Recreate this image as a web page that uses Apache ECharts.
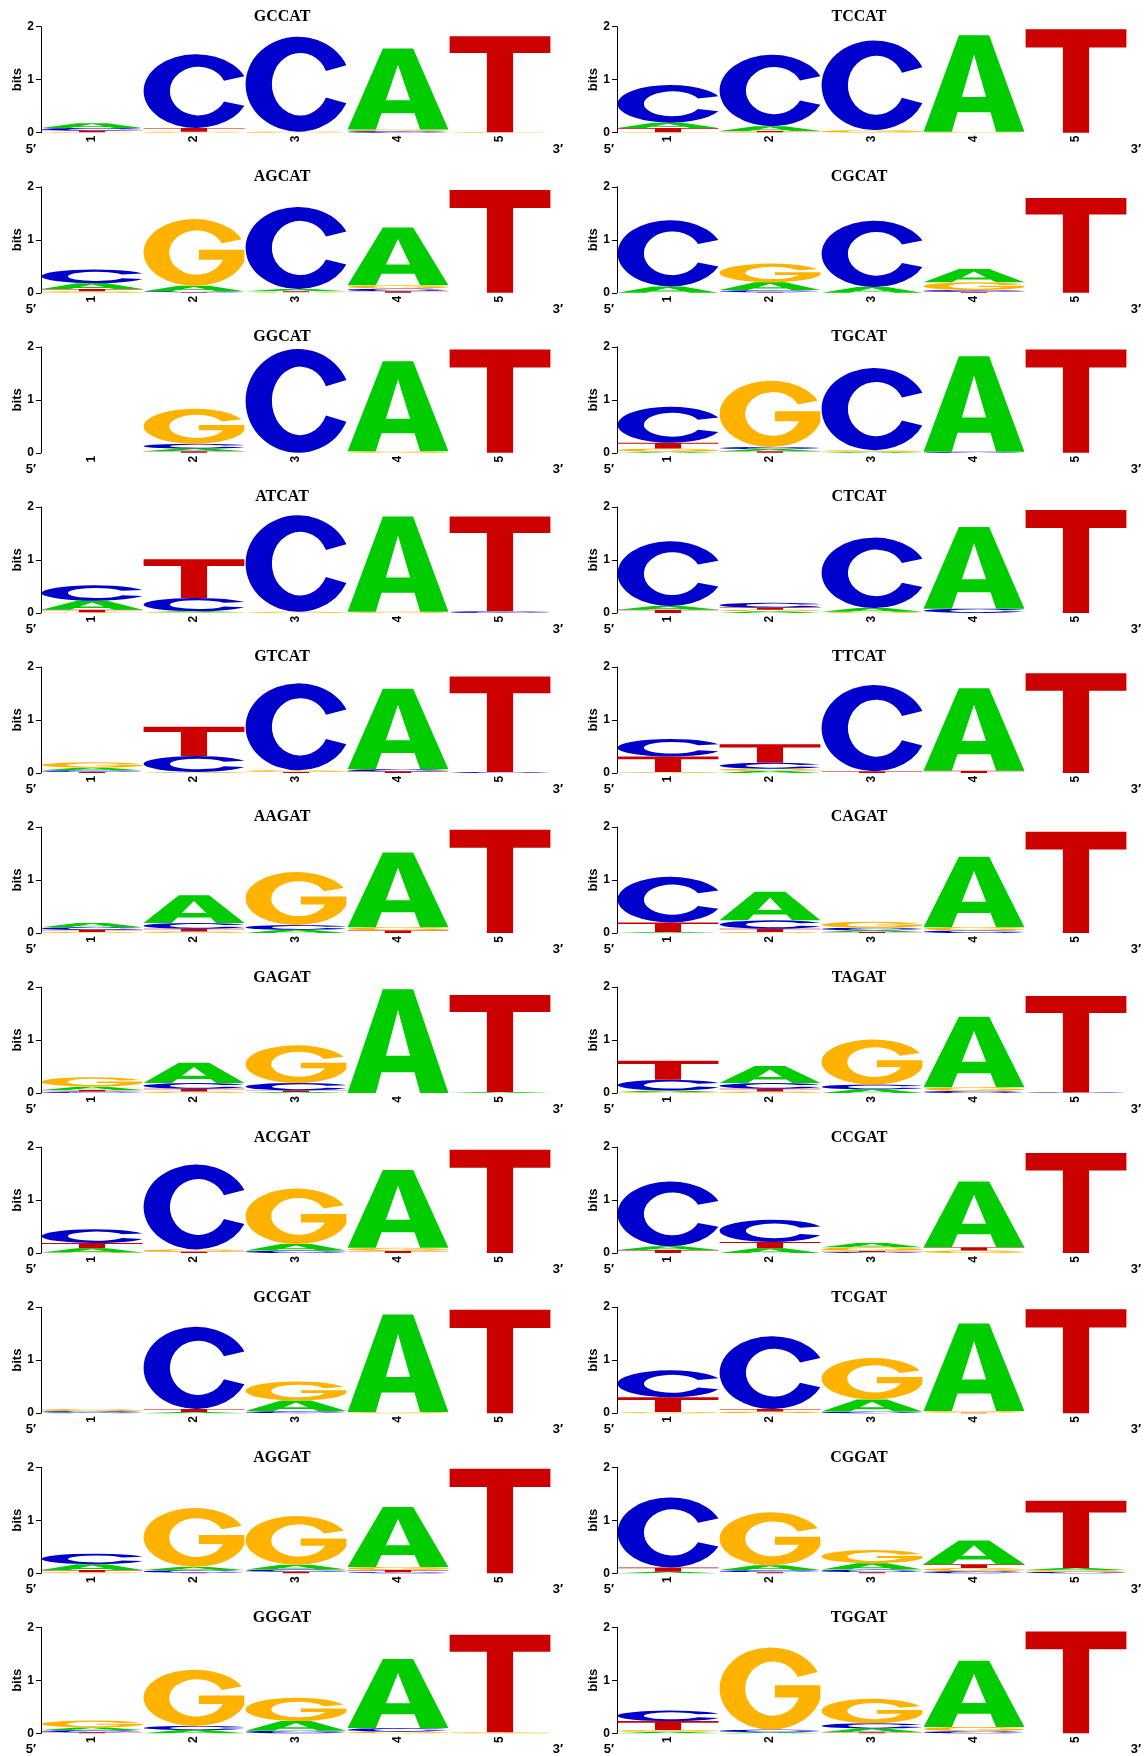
<!DOCTYPE html>
<html>
<head>
<meta charset="utf-8">
<script src="https://cdn.jsdelivr.net/npm/echarts@6.0.0/dist/echarts.min.js"></script>
<style>
html,body{margin:0;padding:0;background:#fff;}
#chart{width:1147px;height:1756px;}
</style>
</head>
<body>
<div id="chart"></div>
<script>
// ---------- data ----------
const bases = ['A', 'C', 'G', 'T'];
const positions = ['1', '2', '3', '4', '5'];
const bitsMin = 0, bitsMax = 2, bitsStep = 1;
const titles = ['GCCAT','TCCAT','AGCAT','CGCAT','GGCAT','TGCAT','ATCAT','CTCAT','GTCAT','TTCAT',
                'AAGAT','CAGAT','GAGAT','TAGAT','ACGAT','CCGAT','GCGAT','TCGAT','AGGAT','CGGAT','GGGAT','TGGAT'];

// each row = one position: [A, C, G, T] heights in bits
const logoGCCAT = [[0.09,0.05,0.01,0.03],[0,1.39,0.02,0.07],[0,1.79,0.02,0],[1.53,0.03,0.03,0],[0,0,0.01,1.81]];
const logoTCCAT = [[0.10,0.71,0.01,0.08],[0.09,1.35,0.01,0.02],[0,1.69,0.05,0],[1.82,0,0.02,0],[0,0,0,1.95]];
const logoAGCAT = [[0.11,0.26,0.03,0.04],[0.10,0.02,1.26,0.01],[0.04,1.55,0.01,0.02],[1.09,0.05,0.06,0.03],[0,0,0,1.94]];
const logoCGCAT = [[0.12,1.25,0,0],[0.15,0.04,0.35,0.01],[0.11,1.25,0,0],[0.25,0.03,0.15,0.02],[0,0,0,1.79]];
const logoGGCAT = [[0,0,0,0],[0.05,0.09,0.66,0.03],[0,1.96,0,0],[1.70,0,0.03,0],[0,0,0,1.95]];
const logoTGCAT = [[0.02,0.68,0.06,0.11],[0.04,0.04,1.25,0.03],[0.02,1.55,0.03,0],[1.80,0.02,0,0],[0,0,0,1.95]];
const logoATCAT = [[0.17,0.29,0.01,0.05],[0.02,0.25,0.01,0.73],[0,1.82,0.02,0],[1.80,0,0.02,0],[0,0.03,0,1.79]];
const logoCTCAT = [[0.07,1.22,0,0.06],[0.03,0.09,0.03,0.04],[0.07,1.33,0.02,0],[1.54,0.08,0,0],[0,0,0,1.94]];
const logoGTCAT = [[0.05,0.03,0.10,0.02],[0.01,0.30,0.01,0.55],[0,1.64,0.03,0.02],[1.52,0.04,0,0.03],[0,0.02,0,1.80]];
const logoTTCAT = [[0.01,0.33,0.01,0.29],[0.04,0.11,0.04,0.35],[0,1.63,0,0.03],[1.56,0,0,0.04],[0,0,0,1.88]];
const logoAAGAT = [[0.08,0.05,0.02,0.04],[0.52,0.11,0.03,0.05],[0.06,0.09,1.00,0],[1.41,0,0.06,0.05],[0,0,0,1.95]];
const logoCAGAT = [[0.02,0.86,0,0.18],[0.54,0.16,0.02,0.06],[0.03,0.05,0.11,0.02],[1.33,0.05,0.06,0],[0,0,0,1.91]];
const logoGAGAT = [[0.06,0.03,0.18,0.03],[0.38,0.11,0.03,0.05],[0.02,0.14,0.71,0.03],[1.96,0,0,0],[0.02,0,0,1.83]];
const logoTAGAT = [[0.03,0.20,0.02,0.36],[0.32,0.11,0.03,0.05],[0.07,0.09,0.85,0],[1.33,0.04,0.07,0],[0,0.01,0,1.82]];
const logoACGAT = [[0.08,0.26,0.01,0.10],[0,1.60,0.04,0.03],[0.12,0.05,1.05,0],[1.47,0,0.06,0.04],[0,0,0,1.95]];
const logoCCGAT = [[0.07,1.22,0,0.06],[0.09,0.42,0,0.12],[0.08,0.02,0.07,0.02],[1.24,0,0.05,0.06],[0,0,0,1.89]];
const logoGCGAT = [[0.01,0.03,0.04,0],[0.02,1.55,0,0.06],[0.20,0.04,0.36,0],[1.84,0,0.02,0],[0,0,0,1.95]];
const logoTCGAT = [[0,0.51,0.02,0.28],[0,1.37,0.03,0.05],[0.23,0.03,0.78,0],[1.65,0,0.03,0.01],[0,0,0,1.96]];
const logoAGGAT = [[0.11,0.20,0.02,0.04],[0.06,0.05,1.11,0.01],[0.09,0.04,0.92,0.03],[1.13,0.02,0.06,0.04],[0,0,0,1.97]];
const logoCGGAT = [[0.03,1.32,0,0.08],[0.09,0.04,1.00,0.02],[0.12,0.05,0.25,0.02],[0.45,0.04,0.06,0.07],[0.04,0.03,0.03,1.27]];
const logoGGGAT = [[0.05,0.04,0.13,0.02],[0.06,0.08,1.06,0],[0.18,0.05,0.44,0],[1.30,0.07,0.03,0],[0,0,0.02,1.84]];
const logoTGGAT = [[0.03,0.20,0.03,0.17],[0.02,0.05,1.55,0],[0.07,0.10,0.46,0.02],[1.25,0.04,0.08,0],[0,0,0,1.92]];

const panels = [logoGCCAT,logoTCCAT,logoAGCAT,logoCGCAT,logoGGCAT,logoTGCAT,logoATCAT,logoCTCAT,logoGTCAT,logoTTCAT,
                logoAAGAT,logoCAGAT,logoGAGAT,logoTAGAT,logoACGAT,logoCCGAT,logoGCGAT,logoTCGAT,logoAGGAT,logoCGGAT,logoGGGAT,logoTGGAT];

// ---------- styling ----------
const baseColors = ['#00CC00', '#0000CC', '#FFB300', '#CC0000'];
const letterPaths = [
  'M0 100 L35 0 L65 0 L100 100 L72 100 L66.4 80 L33.6 80 L28 100 Z M50 20 L38 64 L62 64 Z',
  'M95.8 30 A50 50 0 1 0 95.8 70 L76.4 64 A27 33 0 1 1 76.4 36 Z',
  'M95.8 30 A50 50 0 1 0 98.5 62 L98.5 46 L54 46 L54 61 L77.5 61 A27 33 0 1 1 76.4 36 Z',
  'M0 0 L100 0 L100 17.5 L63 17.5 L63 100 L37 100 L37 17.5 L0 17.5 Z'
];
const SANS = '"Liberation Sans", Arial, sans-serif';
const SERIF = '"Liberation Serif", "Times New Roman", serif';
const rowStep = 160.06, gridTop0 = 26.7, gridH = 106, gridW = 510;
const colLeft = [41, 617];
const titleX = [282, 859];
const fiveX = [31, 609], threeX = [558, 1136];

function stackItems(panel) {
  const items = [];
  panel.forEach((col, pos) => {
    const order = col.map((h, i) => ({h, i})).filter(o => o.h > 0).sort((a, b) => a.h - b.h);
    let y = 0;
    order.forEach(o => { items.push([pos, y, y + o.h, o.i]); y += o.h; });
  });
  return items;
}

function renderLetter(params, api) {
  const pos = api.value(0), y0 = api.value(1), y1 = api.value(2), b = api.value(3);
  const pb = api.coord([pos, y0]);
  const pt = api.coord([pos, y1]);
  const bw = api.size([1, 0])[0];
  const w = bw - 1.2;
  const h = pb[1] - pt[1];
  if (!(h > 0)) return null;
  return {
    type: 'path',
    shape: { pathData: letterPaths[b], x: pb[0] - w / 2, y: pt[1], width: w, height: h, layout: 'cover' },
    style: { fill: baseColors[b] }
  };
}

const grid = [], xAxis = [], yAxis = [], series = [], title = [], graphic = [];
panels.forEach((panel, i) => {
  const row = Math.floor(i / 2), col = i % 2;
  const top = gridTop0 + rowStep * row;
  grid.push({ left: colLeft[col], top: top, width: gridW, height: gridH, containLabel: false });
  xAxis.push({
    type: 'category', gridIndex: i, data: positions, boundaryGap: true,
    axisLine: { show: false }, axisTick: { show: false }, splitLine: { show: false },
    axisLabel: { rotate: 90, margin: 3, fontSize: 12, fontWeight: 'bold', color: '#000', fontFamily: SANS }
  });
  yAxis.push({
    type: 'value', gridIndex: i, min: bitsMin, max: bitsMax, interval: bitsStep,
    name: 'bits', nameLocation: 'middle', nameRotate: 90, nameGap: 17,
    nameTextStyle: { fontSize: 13, fontWeight: 'bold', color: '#000', fontFamily: SANS },
    axisLine: { show: true, lineStyle: { color: '#000', width: 1 } },
    axisTick: { show: true, length: 5, lineStyle: { color: '#000', width: 1 } },
    splitLine: { show: false },
    axisLabel: { margin: 7, fontSize: 12, fontWeight: 'bold', color: '#000', fontFamily: SANS }
  });
  series.push({
    type: 'custom', xAxisIndex: i, yAxisIndex: i, clip: false,
    renderItem: renderLetter, data: stackItems(panel),
    encode: { x: 0, y: [1, 2] }, silent: true
  });
  title.push({
    text: titles[i], left: titleX[col], top: 9 + rowStep * row, textAlign: 'center', padding: 0,
    textStyle: { fontFamily: SERIF, fontWeight: 'bold', fontSize: 16, color: '#000' }
  });
  const ly = 149 + rowStep * row;
  graphic.push({ type: 'text', x: fiveX[col], y: ly, style: { text: '5\u2032', font: 'bold 13px ' + SANS, fill: '#000', align: 'center', verticalAlign: 'middle', textAlign: 'center', textVerticalAlign: 'middle' } });
  graphic.push({ type: 'text', x: threeX[col], y: ly, style: { text: '3\u2032', font: 'bold 13px ' + SANS, fill: '#000', align: 'center', verticalAlign: 'middle', textAlign: 'center', textVerticalAlign: 'middle' } });
});

const chart = echarts.init(document.getElementById('chart'), null, { renderer: 'canvas' });
chart.setOption({
  backgroundColor: '#fff',
  animation: false,
  title, grid, xAxis, yAxis, series, graphic
});
</script>
</body>
</html>
